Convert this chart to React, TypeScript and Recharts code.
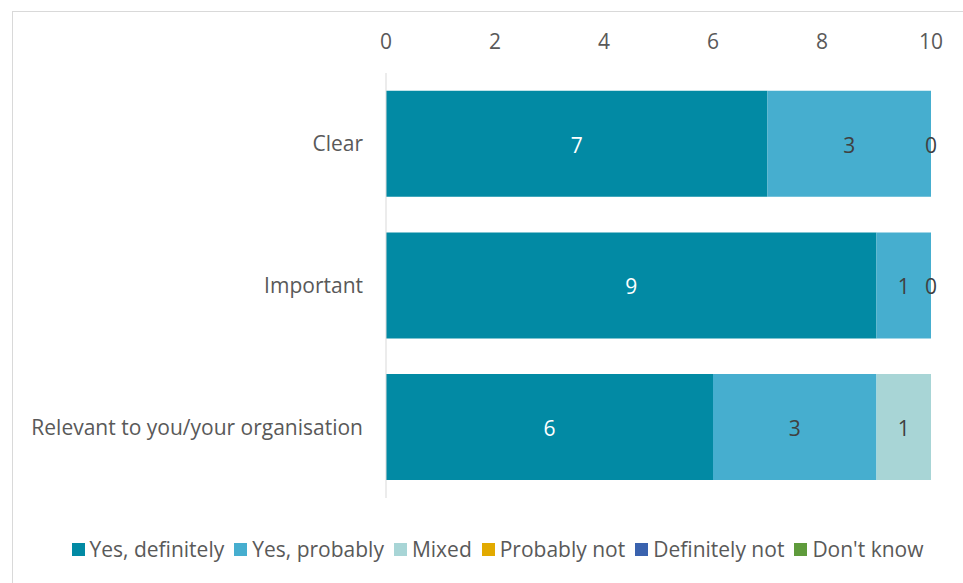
import { BarChart, Bar, XAxis, YAxis, Legend, LabelList } from "recharts";

const categories = ["Clear", "Important", "Relevant to you/your organisation"];
const yesDefinitely = [7, 9, 6];
const yesProbably = [3, 1, 3];
const mixed = [0, 0, 1];
const probablyNot = [0, 0, 0];
const definitelyNot = [0, 0, 0];
const dontKnow = [0, 0, 0];
const xTicks = [0, 2, 4, 6, 8, 10];

const series = [
  { key: "yesDef", name: "Yes, definitely", color: "#028aa4", values: yesDefinitely, label: "#ffffff" },
  { key: "yesProb", name: "Yes, probably", color: "#46aecf", values: yesProbably, label: "#404040" },
  { key: "mixed", name: "Mixed", color: "#a8d5d6", values: mixed, label: "#404040" },
  { key: "probNot", name: "Probably not", color: "#e2aa00", values: probablyNot, label: null },
  { key: "defNot", name: "Definitely not", color: "#3a62ae", values: definitelyNot, label: null },
  { key: "dontKnow", name: "Don't know", color: "#5f9b3c", values: dontKnow, label: null },
];

const data = categories.map((cat, i) => {
  const row: any = { cat };
  series.forEach((s) => (row[s.key] = s.values[i]));
  return row;
});

const font = "'Open Sans', sans-serif";
const fs = 21;

function LegendContent() {
  return (
    <div
      style={{
        display: "flex",
        justifyContent: "center",
        gap: 10,
        fontFamily: font,
        fontSize: fs,
        color: "#595959",
        paddingTop: 37,
        paddingLeft: 64,
        height: 28,
      }}
    >
      {series.map((s) => (
        <span key={s.key} style={{ display: "flex", alignItems: "center", gap: 5 }}>
          <span style={{ width: 13, height: 13, background: s.color, display: "inline-block" }} />
          {s.name}
        </span>
      ))}
    </div>
  );
}

const labelText = (x: number, y: number, fill: string, value: any, key: string) => (
  <text
    key={key}
    x={x}
    y={y}
    textAnchor="middle"
    dominantBaseline="central"
    fill={fill}
    style={{ fontSize: fs, fontFamily: font }}
  >
    {value}
  </text>
);

const makeLabel = (fill: string) => (props: any) => {
  const { x, y, width, height, value } = props;
  return labelText(Number(x) + Number(width) / 2, Number(y) + Number(height) / 2 + 1, fill, value, "v");
};

// zero-width "Mixed" segments get no label from recharts, so draw them at the end of "Yes, probably"
const probablyLabel = (props: any) => {
  const { x, y, width, height, value, index } = props;
  const cy = Number(y) + Number(height) / 2 + 1;
  const end = Number(x) + Number(width);
  return (
    <g>
      {labelText(Number(x) + Number(width) / 2, cy, "#404040", value, "v")}
      {mixed[index] === 0 && labelText(end, cy, "#404040", mixed[index], "m")}
    </g>
  );
};

export default function App() {
  return (
    <div style={{ position: "absolute", left: 0, top: 0, width: 963, height: 583, overflow: "hidden", background: "#fff" }}>
      <div
        style={{
          position: "absolute",
          left: 12,
          top: 11,
          width: 1000,
          height: 1000,
          border: "1px solid #d9d9d9",
        }}
      />
      <BarChart
        width={963}
        height={583}
        data={data}
        layout="vertical"
        barCategoryGap="12.5%"
        margin={{ top: 43, right: 32, bottom: 20, left: 0 }}
        style={{ position: "absolute", left: 0, top: 0 }}
      >
        <XAxis
          type="number"
          orientation="top"
          domain={[0, 10]}
          ticks={xTicks}
          axisLine={false}
          tickLine={false}
          height={30}
          tickMargin={18}
          tick={{ fill: "#595959", fontSize: fs, fontFamily: font }}
        />
        <YAxis
          type="category"
          dataKey="cat"
          width={386}
          axisLine={{ stroke: "#d9d9d9" }}
          tickLine={false}
          tickMargin={17}
          tick={{ fill: "#595959", fontSize: fs, fontFamily: font }}
        />
        <Legend verticalAlign="bottom" content={<LegendContent />} />
        {series.map((s) => (
          <Bar key={s.key} dataKey={s.key} name={s.name} stackId="a" fill={s.color} isAnimationActive={false}>
            {s.key === "yesProb" ? (
              <LabelList dataKey={s.key} content={probablyLabel} />
            ) : (
              s.label && <LabelList dataKey={s.key} content={makeLabel(s.label)} />
            )}
          </Bar>
        ))}
      </BarChart>
    </div>
  );
}
